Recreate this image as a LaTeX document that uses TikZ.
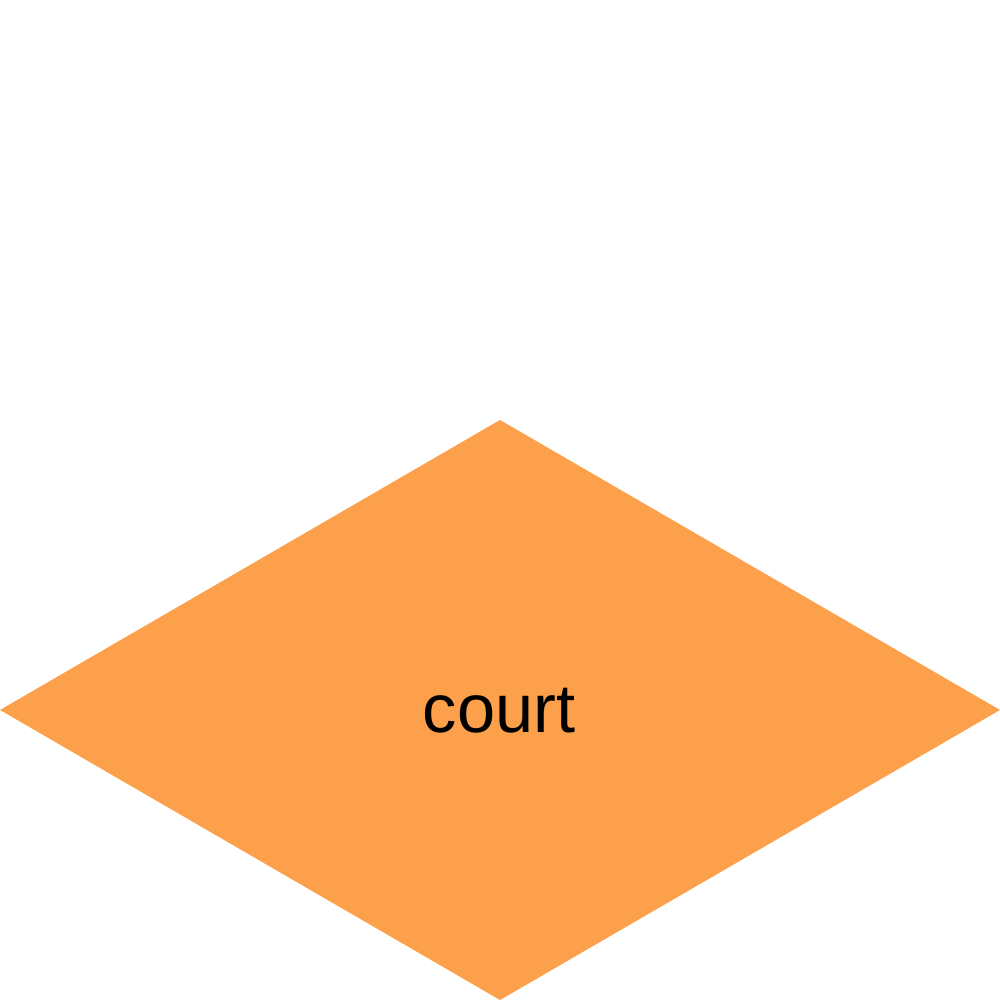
\documentclass[tikz,border=0pt]{standalone}
\usepackage{fontspec}
\setmainfont{Liberation Sans}
\usetikzlibrary{positioning}
\definecolor{courtfill}{HTML}{FCA04C}
\tikzset{
  courtshape/.style = {fill=courtfill, draw=none},
  courtlabel/.style = {font=\fontsize{19.5}{23}\selectfont, text=black, inner sep=0pt, anchor=base},
}
\begin{document}
\begin{tikzpicture}
        \useasboundingbox (0,0) rectangle (10,10);
        \coordinate (l) at (0,2.9);
        \coordinate (t) at (5,5.8);
        \coordinate (r) at (10,2.9);
        \coordinate (b) at (5,0);
        \fill[courtshape] (l) -- (t) -- (r) -- (b) -- cycle;
        \node[courtlabel] (court) at (4.99,2.67) {court};
    \end{tikzpicture}
\end{document}
